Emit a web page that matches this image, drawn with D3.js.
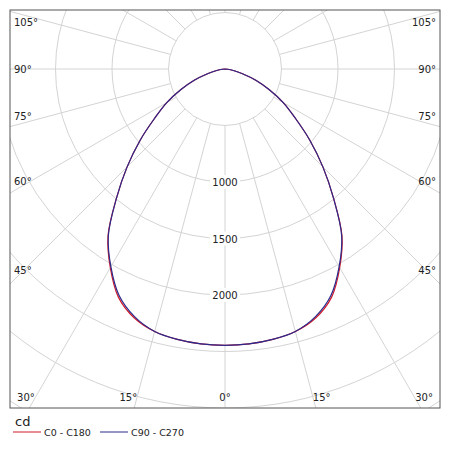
<!DOCTYPE html>
<html>
<head>
<meta charset="utf-8">
<script src="https://cdn.jsdelivr.net/npm/d3@7"></script>
<style>
  body { margin: 0; background: #fff; }
  svg text { font-family: "DejaVu Sans", Verdana, sans-serif; }
</style>
</head>
<body>
<svg width="450" height="450"></svg>
<script>
// angles from nadir, degrees (symmetric left/right)
const angles = [0, 5, 10, 15, 20, 25, 30, 35, 40, 45, 50, 55, 60, 65, 70, 75, 80, 85, 90];
const c0c180 = [2445, 2442, 2430, 2405, 2345, 2230, 2030, 1805, 1495, 1225, 980, 760, 595, 430, 290, 160, 75, 25, 0];
const c90c270 = [2445, 2442, 2430, 2405, 2335, 2215, 2020, 1800, 1495, 1225, 980, 760, 595, 430, 290, 160, 75, 25, 0];
const ringValues = [500, 1000, 1500, 2000, 2500, 3000, 3500, 4000];
const ringLabels = [1000, 1500, 2000];
const sideLabels = [105, 90, 75, 60, 45];
const bottomLabels = [0, 15, 30];

const svg = d3.select('svg');
const box = { x0: 10, y0: 10, x1: 440, y1: 408 };
const cx = 225, cy = 69;
const r = d3.scaleLinear().domain([0, 500]).range([0, 56.5]);

svg.append('defs').append('clipPath').attr('id', 'clip')
  .append('rect').attr('x', box.x0).attr('y', box.y0)
  .attr('width', box.x1 - box.x0).attr('height', box.y1 - box.y0);

const grid = svg.append('g').attr('clip-path', 'url(#clip)');

// point for angle a (deg from downward vertical, positive to the right)
const pt = (a, v) => {
  const t = a * Math.PI / 180;
  return [cx + r(v) * Math.sin(t), cy + r(v) * Math.cos(t)];
};

// spokes every 15 deg starting at the inner ring
d3.range(-180, 180, 15).forEach(a => {
  const p0 = pt(a, 500), p1 = pt(a, 6000);
  grid.append('line').attr('x1', p0[0]).attr('y1', p0[1]).attr('x2', p1[0]).attr('y2', p1[1])
    .attr('stroke', '#d4d4d4').attr('stroke-width', 1);
});

grid.selectAll('circle.ring').data(ringValues).enter().append('circle')
  .attr('class', 'ring').attr('cx', cx).attr('cy', cy).attr('r', d => r(d))
  .attr('fill', 'none').attr('stroke', '#d4d4d4').attr('stroke-width', 1);

// ring labels
ringLabels.forEach(v => {
  const g = svg.append('g');
  g.append('rect').attr('x', cx - 15).attr('y', cy + r(v) - 7).attr('width', 30).attr('height', 14).attr('fill', '#fff');
  g.append('text').attr('x', cx).attr('y', cy + r(v) + 4).attr('text-anchor', 'middle')
    .attr('font-size', 10).attr('fill', '#222').text(v);
});

// curves
const line = d3.line().curve(d3.curveCatmullRom);
const full = vals => {
  const pts = [];
  for (let i = angles.length - 1; i > 0; i--) pts.push(pt(-angles[i], vals[i]));
  for (let i = 0; i < angles.length; i++) pts.push(pt(angles[i], vals[i]));
  return pts;
};
svg.append('path').attr('d', line(full(c0c180))).attr('fill', 'none').attr('stroke', '#d11a2a').attr('stroke-width', 1.2);
svg.append('path').attr('d', line(full(c90c270))).attr('fill', 'none').attr('stroke', '#2b2a8c').attr('stroke-width', 1.2);

// border
svg.append('rect').attr('x', box.x0).attr('y', box.y0).attr('width', box.x1 - box.x0).attr('height', box.y1 - box.y0)
  .attr('fill', 'none').attr('stroke', '#555').attr('stroke-width', 1);

// side labels
sideLabels.forEach(a => {
  const t = a * Math.PI / 180;
  let y = cy + (210 / Math.tan(t)) - 5;
  if (a === 90) y = cy + 4;
  y = Math.max(y, 26);
  svg.append('text').attr('x', 14).attr('y', y).attr('font-size', 10).attr('fill', '#222').text(a + '°');
  svg.append('text').attr('x', 436).attr('y', y).attr('text-anchor', 'end').attr('font-size', 10).attr('fill', '#222').text(a + '°');
});

// bottom labels
bottomLabels.forEach(a => {
  const dx = 331 * Math.tan(a * Math.PI / 180);
  if (a === 0) {
    svg.append('text').attr('x', cx).attr('y', 401).attr('text-anchor', 'middle').attr('font-size', 10).attr('fill', '#222').text('0°');
  } else {
    svg.append('text').attr('x', cx - dx - 8).attr('y', 401).attr('text-anchor', 'middle').attr('font-size', 10).attr('fill', '#222').text(a + '°');
    svg.append('text').attr('x', cx + dx + 8).attr('y', 401).attr('text-anchor', 'middle').attr('font-size', 10).attr('fill', '#222').text(a + '°');
  }
});

// legend
svg.append('text').attr('x', 15).attr('y', 426).attr('font-size', 13).attr('fill', '#222').text('cd');
svg.append('line').attr('x1', 13).attr('x2', 41).attr('y1', 432).attr('y2', 432).attr('stroke', '#d11a2a');
svg.append('text').attr('x', 44).attr('y', 436).attr('font-size', 9.5).attr('fill', '#222').text('C0 - C180');
svg.append('line').attr('x1', 100).attr('x2', 128).attr('y1', 432).attr('y2', 432).attr('stroke', '#2b2a8c');
svg.append('text').attr('x', 131).attr('y', 436).attr('font-size', 9.5).attr('fill', '#222').text('C90 - C270');
</script>
</body>
</html>
